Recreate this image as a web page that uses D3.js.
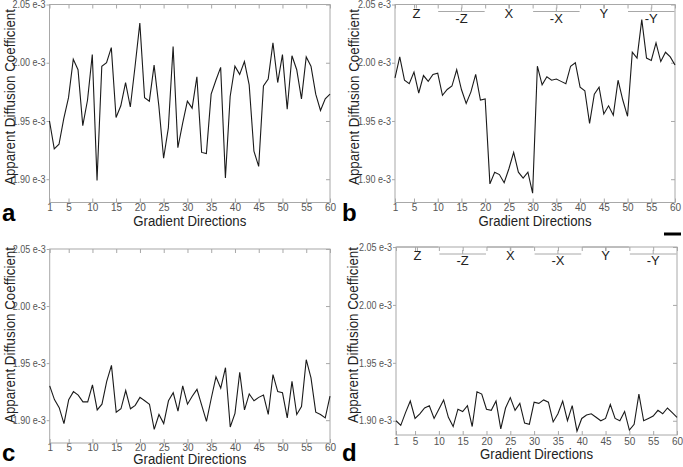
<!DOCTYPE html>
<html>
<head>
<meta charset="utf-8">
<script src="https://cdn.jsdelivr.net/npm/d3@7"></script>
<style>
  html, body { margin: 0; padding: 0; background: #fff; }
  svg { display: block; }
  text { font-family: "Liberation Sans", Arial, sans-serif; }
</style>
</head>
<body>
<svg id="chart" width="683" height="467"></svg>
<script>
// ---- Data (ADC values, units of 1e-3) ----
const directions = d3.range(1, 61);
const adcA = [1.950,1.926,1.930,1.952,1.970,2.003,1.994,1.946,1.968,2.007,
              1.899,1.997,2.000,2.013,1.953,1.963,1.983,1.962,1.997,2.034,
              1.970,1.967,1.998,1.963,1.918,1.944,2.014,1.927,1.948,1.967,
              1.961,1.988,1.923,1.922,1.973,1.985,1.996,1.901,1.971,1.997,
              1.990,2.001,1.981,1.924,1.911,1.980,1.986,2.017,1.983,2.007,
              1.960,2.006,1.994,1.969,2.005,1.997,1.973,1.959,1.969,1.973];
const adcB = [1.987,2.005,1.985,1.982,1.992,1.974,1.989,1.984,1.990,1.991,
              1.972,1.977,1.980,1.994,1.977,1.965,1.975,1.990,1.968,1.969,
              1.896,1.906,1.904,1.897,1.909,1.923,1.906,1.901,1.906,1.888,
              1.997,1.981,1.988,1.985,1.986,1.984,1.982,1.997,2.000,1.979,
              1.976,1.948,1.973,1.979,1.956,1.963,1.955,1.985,1.968,1.954,
              2.009,2.004,2.037,2.004,2.002,2.017,2.001,2.009,2.005,1.998];
const adcC = [1.930,1.918,1.911,1.897,1.918,1.925,1.922,1.916,1.916,1.931,
              1.909,1.914,1.934,1.948,1.907,1.910,1.926,1.910,1.913,1.920,
              1.917,1.914,1.892,1.905,1.897,1.917,1.924,1.908,1.930,1.914,
              1.921,1.927,1.913,1.899,1.919,1.938,1.928,1.946,1.894,1.906,
              1.942,1.909,1.923,1.917,1.920,1.922,1.905,1.940,1.925,1.924,
              1.902,1.934,1.905,1.912,1.953,1.937,1.907,1.905,1.902,1.921];
const adcD = [1.900,1.896,1.907,1.917,1.902,1.906,1.911,1.913,1.902,1.910,
              1.918,1.903,1.895,1.910,1.908,1.913,1.895,1.925,1.923,1.910,
              1.909,1.917,1.893,1.911,1.920,1.909,1.915,1.898,1.897,1.916,
              1.915,1.918,1.916,1.899,1.906,1.917,1.900,1.913,1.891,1.902,
              1.905,1.906,1.903,1.900,1.902,1.914,1.902,1.900,1.908,1.892,
              1.897,1.923,1.900,1.902,1.904,1.909,1.906,1.911,1.907,1.903];
const xTicks = [1,5,10,15,20,25,30,35,40,45,50,55,60];
const yTicks = [1.90,1.95,2.00,2.05];
const segLabels = ["Z","-Z","X","-X","Y","-Y"];
const segBounds = [1,10,20,30,40,50,60];
const yTitle = "Apparent Diffusion Coefficient";
const xTitle = "Gradient Directions";

// ---- Layout ----
const panels = [
  {data: adcA, letter: "a", left: 49.5, right: 330, top: 4.5, bottom: 202.5, yMin: 1.88, segs: false,
   pad: 1, xtY: 226, ytX: 15, ytY: 97, letX: 2, letY: 221},
  {data: adcB, letter: "b", left: 395, right: 675, top: 4.5, bottom: 202.5, yMin: 1.88, segs: true,
   pad: 1, xtY: 226, ytX: 359, ytY: 97, letX: 342, letY: 221},
  {data: adcC, letter: "c", left: 49.7, right: 330, top: 249, bottom: 443, yMin: 1.88, segs: false,
   pad: 1, xtY: 464, ytX: 15, ytY: 335, letX: 2, letY: 461},
  {data: adcD, letter: "d", left: 396, right: 677, top: 247, bottom: 435, yMin: 1.8877, segs: true,
   pad: 3, xtY: 459, ytX: 358, ytY: 335, letX: 342, letY: 461}
];

const svg = d3.select("#chart");
const frameColor = "#a8a8a8";
const tickText = "#555";

panels.forEach(p => {
  const g = svg.append("g");
  const x = d3.scaleLinear().domain([1, 60]).range([p.left, p.right]);
  const y = d3.scaleLinear().domain([p.yMin, 2.05]).range([p.bottom, p.top]);

  const bottomAx = g.append("g").attr("transform", `translate(0,${p.bottom})`)
      .call(d3.axisBottom(x).tickValues(xTicks).tickSize(-4).tickPadding(p.pad).tickFormat(d3.format("d")));
  const topAx = g.append("g").attr("transform", `translate(0,${p.top})`)
      .call(d3.axisTop(x).tickValues(xTicks).tickSize(-4).tickFormat(""));
  const leftAx = g.append("g").attr("transform", `translate(${p.left},0)`)
      .call(d3.axisLeft(y).tickValues(yTicks).tickSize(3).tickPadding(1).tickFormat(d => d.toFixed(2) + " e-3"));
  const rightAx = g.append("g").attr("transform", `translate(${p.right},0)`)
      .call(d3.axisRight(y).tickValues(yTicks).tickSize(-4).tickFormat(""));
  [bottomAx, topAx, leftAx, rightAx].forEach(a => {
    a.select(".domain").remove();
    a.selectAll(".tick line").attr("stroke", frameColor);
    a.selectAll(".tick text").attr("fill", tickText).style("font-size", "10px");
  });
  leftAx.selectAll(".tick text").attr("textLength", 33).attr("lengthAdjust", "spacingAndGlyphs");

  // frame
  g.append("rect")
    .attr("x", p.left).attr("y", p.top)
    .attr("width", p.right - p.left).attr("height", p.bottom - p.top)
    .attr("fill", "none").attr("stroke", frameColor).attr("stroke-width", 1);

  // segment brackets
  if (p.segs) {
    segLabels.forEach((lab, i) => {
      const a = segBounds[i], b = segBounds[i + 1];
      const upper = i % 2 === 0;
      const ly = upper ? p.top : p.top + 7;
      const mid = (a + b) / 2;
      g.append("line")
        .attr("x1", x(a) + 0.5).attr("x2", x(b) - 0.5)
        .attr("y1", ly).attr("y2", ly)
        .attr("stroke", frameColor).attr("stroke-width", 1);
      g.append("line")
        .attr("x1", x(mid)).attr("x2", x(mid))
        .attr("y1", upper ? ly : ly - 4).attr("y2", upper ? ly + 4 : ly)
        .attr("stroke", frameColor).attr("stroke-width", 1);
      g.append("text")
        .attr("x", x(mid))
        .attr("y", upper ? p.top + 13 : p.top + 18)
        .attr("text-anchor", "middle")
        .attr("fill", "#222")
        .style("font-size", "13px")
        .text(lab);
    });
  }

  // data line
  const line = d3.line().x((d, i) => x(directions[i])).y(d => y(d));
  g.append("path").datum(p.data)
    .attr("d", line)
    .attr("fill", "none").attr("stroke", "#1a1a1a").attr("stroke-width", 1.1);

  // titles
  g.append("text")
    .attr("x", (p.left + p.right) / 2).attr("y", p.xtY)
    .attr("text-anchor", "middle").attr("fill", "#222")
    .style("font-size", "14px")
    .attr("textLength", 113).attr("lengthAdjust", "spacingAndGlyphs")
    .text(xTitle);
  g.append("text")
    .attr("transform", `translate(${p.ytX},${p.ytY}) rotate(-90)`)
    .attr("text-anchor", "middle").attr("fill", "#222")
    .style("font-size", "14px")
    .attr("textLength", 176).attr("lengthAdjust", "spacingAndGlyphs")
    .text(yTitle);
  g.append("text")
    .attr("x", p.letX).attr("y", p.letY)
    .attr("fill", "#000").style("font-size", "24px").style("font-weight", "bold")
    .text(p.letter);
});

// small scale bar below panel b
svg.append("line")
  .attr("x1", 664).attr("x2", 681).attr("y1", 234).attr("y2", 234)
  .attr("stroke", "#000").attr("stroke-width", 3);
</script>
</body>
</html>
